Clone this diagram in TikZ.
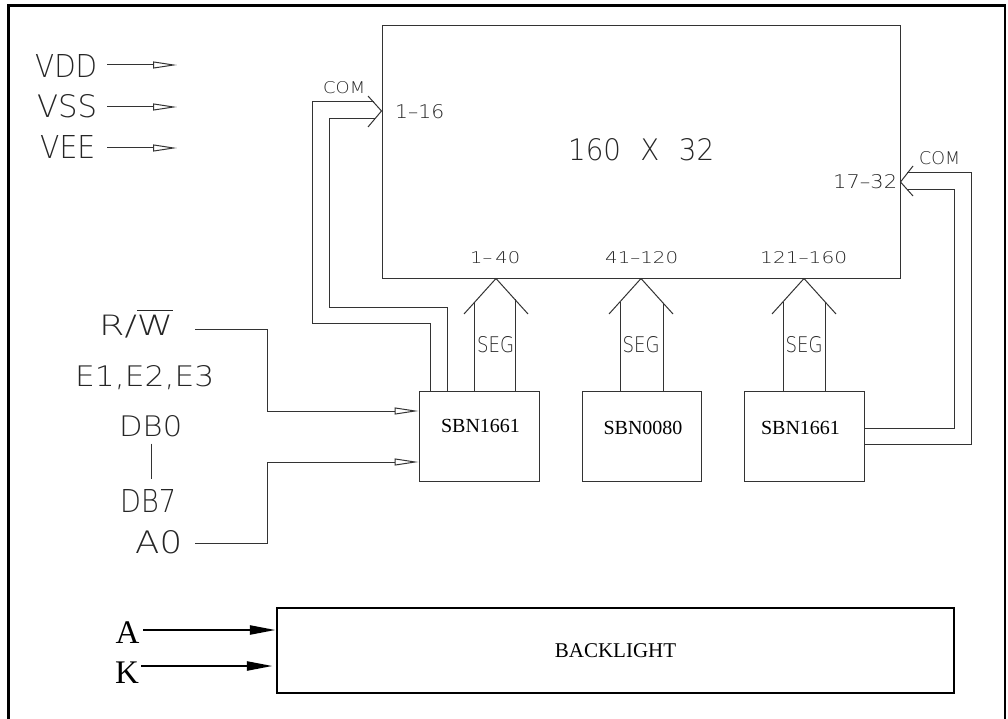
\documentclass[tikz,border=0pt]{standalone}
\usepackage{fontspec}
\usepackage{graphicx}
\usetikzlibrary{arrows.meta,calc}
\setmainfont{Liberation Serif}
\IfFontExistsTF{DejaVu Sans ExtraLight}{\newfontfamily\cadfont{DejaVu Sans ExtraLight}}{\newfontfamily\cadfont{Liberation Sans}}
\newcommand\cadt[3]{\resizebox{#1pt}{#2pt}{\cadfont #3}}
\begin{document}
\begin{tikzpicture}[x=1pt,y=-1pt,
  thinline/.style={draw=black!80, line width=1pt},
  cad/.style={inner sep=0pt, anchor=base west, text=black!85},
  serif/.style={inner sep=0pt, font=\fontsize{20}{24}\selectfont},
  bigserif/.style={inner sep=0pt, font=\fontsize{33}{36}\selectfont},
  chip/.style={thinline, minimum width=120pt, minimum height=90pt, inner sep=0pt},
  opentip/.style={thinline, -{Triangle[open,length=24pt,width=7pt]}},
  thicktip/.style={line width=2.5pt, -{Triangle[length=26pt,width=9pt]}},
]
\useasboundingbox (0,0) rectangle (1008,719);
% outer frame (bottom edge lies below the picture)
\draw[line width=2.5pt] (8.5,730) -- (8.5,5.5) -- (1005,5.5) -- (1005,730);

% display
\node[thinline, minimum width=518pt, minimum height=252pt, inner sep=0pt] (disp) at (641,152) {};
\node[cad] (dim) at (568,161) {\cadt{146}{22}{160\hspace{0.7em}X\hspace{0.7em}32}};
\node[cad] (p116) at (395,119) {\cadt{49}{14}{1–16}};
\node[cad] (p1732) at (833,189) {\cadt{64}{14}{17–32}};
\node[cad] (p140) at (470,263) {\cadt{50}{12}{1–\,40}};
\node[cad] (p41120) at (605,263) {\cadt{73}{12}{41–120}};
\node[cad] (p121160) at (760,263) {\cadt{87}{12}{121–160}};
\node[cad] (comL) at (323,94) {\cadt{42}{12}{COM}};
\node[cad] (comR) at (919,165) {\cadt{41}{13}{COM}};

% power inputs
\node[cad] (vdd) at (35,78) {\cadt{62}{23}{VDD}};
\node[cad] (vss) at (37,118) {\cadt{60}{23}{VSS}};
\node[cad] (vee) at (40,159) {\cadt{55}{23}{VEE}};
\coordinate (vddA) at (107,65); \coordinate (vddB) at (177,65);
\coordinate (vssA) at (107,107); \coordinate (vssB) at (177,107);
\coordinate (veeA) at (107,148); \coordinate (veeB) at (177,148);
\draw[opentip] (vddA) -- (vddB);
\draw[opentip] (vssA) -- (vssB);
\draw[opentip] (veeA) -- (veeB);

% driver chips
\node[chip] (b1) at (479,436) {};
\node[chip, minimum width=119pt] (b2) at (641.5,436) {};
\node[chip] (b3) at (804,436) {};
\node[serif] (l1) at (480.5,426) {SBN1661};
\node[serif] (l2) at (643,427.5) {SBN0080};
\node[serif] (l3) at (800.5,427.5) {SBN1661};

% SEG arrows
\draw[thinline] (464,314) -- (496,0 |- disp.south) -- (528,314);
\draw[thinline] (474,302.8) -- (474,0 |- b1.north);
\draw[thinline] (515,299.4) -- (515,0 |- b1.north);
\node[cad] (s1) at (477,352) {\cadt{37}{16}{SEG}};
\draw[thinline] (609,314) -- (641,0 |- disp.south) -- (673,314);
\draw[thinline] (620,301.6) -- (620,0 |- b2.north);
\draw[thinline] (663,302.8) -- (663,0 |- b2.north);
\node[cad] (s2) at (622.5,352) {\cadt{37}{16}{SEG}};
\draw[thinline] (772,314) -- (804,0 |- disp.south) -- (836,314);
\draw[thinline] (783,301.6) -- (783,0 |- b3.north);
\draw[thinline] (825,301.6) -- (825,0 |- b3.north);
\node[cad] (s3) at (785.5,352) {\cadt{37}{16}{SEG}};

% COM left
\draw[thinline] (368,96) -- (disp.west |- 0,111) -- (368,127);
\draw[thinline] (374,102) -- (312,102) -- (312,323) -- (430,323) -- (430,0 |- b1.north);
\draw[thinline] (375,119) -- (329,119) -- (329,307) -- (447,307) -- (447,0 |- b1.north);
% COM right
\draw[thinline] (913,166) -- (disp.east |- 0,182) -- (913,196);
\draw[thinline] (907,173) -- (971,173) -- (971,444) -- (b3.east |- 0,444);
\draw[thinline] (907,190) -- (954,190) -- (954,428) -- (b3.east |- 0,428);

% control inputs
\node[cad] (rw) at (99,335) {\cadt{74}{26}{R/$\overline{\hbox{W}}$}};
\node[cad] (en) at (75,386) {\cadt{139}{21}{E1,E2,E3}};
\node[cad] (db0) at (119,436) {\cadt{63}{21}{DB0}};
\node[cad] (db7) at (120,512) {\cadt{56}{23}{DB7}};
\node[cad] (a0) at (135,553) {\cadt{47}{23}{A0}};
\draw[thinline] (151,0 |- db0.south) ++(0,7) -- (151,479);
\coordinate (rwS) at (195,329);
\coordinate (a0S) at (195,543);
\draw[opentip] (rwS) -| (267,411) -- (b1.west |- 0,411);
\draw[opentip] (a0S) -| (267,462) -- (b1.west |- 0,462);

% backlight
\node[draw, line width=2.5pt, minimum width=677pt, minimum height=85pt, inner sep=0pt,
      font=\fontsize{21}{24}\selectfont] (bl) at (615.5,650.5) {BACKLIGHT};
\node[bigserif] (A) at (127.5,633) {A};
\node[bigserif] (K) at (127,672.5) {K};
\coordinate (aS) at (143,630);
\coordinate (kS) at (141,666);
\draw[thicktip] (aS) -- (bl.west |- 0,630);
\draw[thicktip] (kS) -- ([xshift=-3pt]bl.west |- 0,666);
\end{tikzpicture}
\end{document}
